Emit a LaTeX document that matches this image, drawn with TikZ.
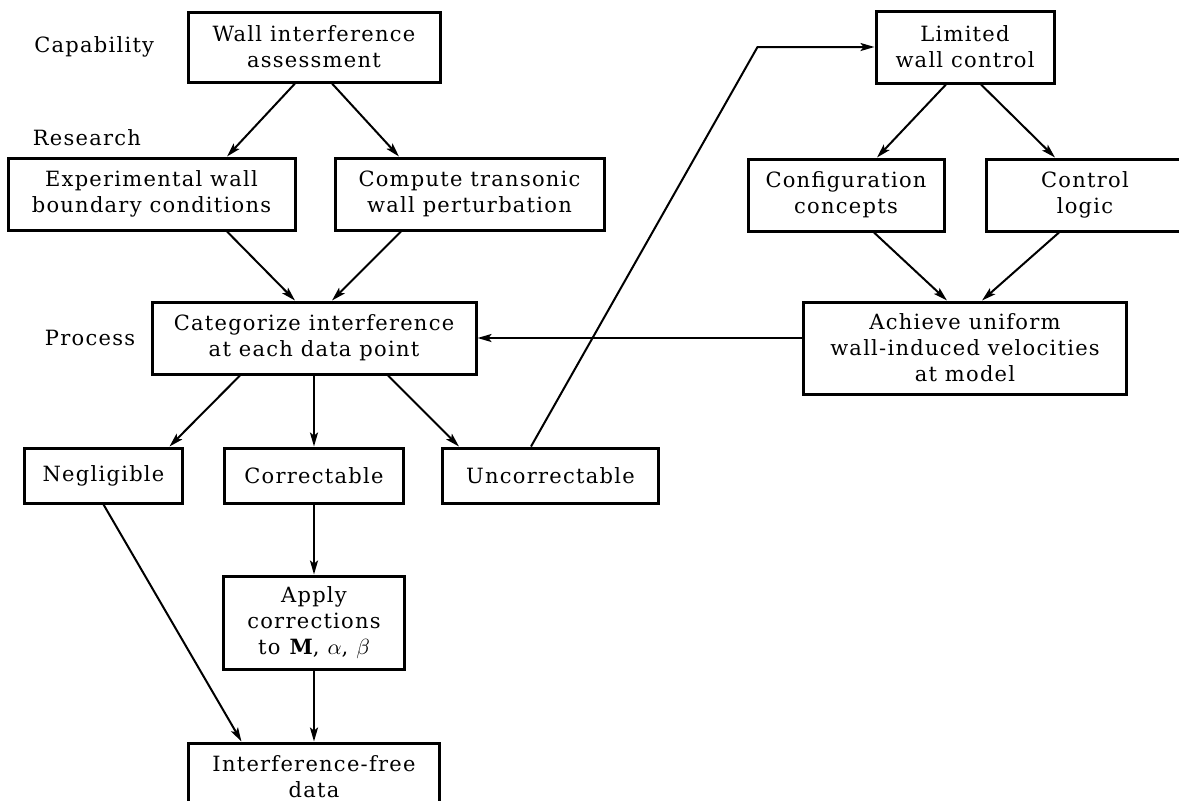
\documentclass[tikz,border=0pt]{standalone}
\usepackage{fontspec}
\setmainfont[LetterSpace=6]{DejaVu Serif}
\usetikzlibrary{positioning, arrows.meta}

\begin{document}
\begin{tikzpicture}[
        block/.style={rectangle, draw, line width=1.5pt, align=center, inner sep=2pt, font=\fontsize{10.5}{13}\selectfont},
        tag/.style={inner sep=0pt, font=\fontsize{10.5}{13}\selectfont},
        arrow/.style={-{Stealth[length=7pt, width=4pt, inset=1.5pt]}, line width=1pt},
    ]
        \useasboundingbox (0,0) rectangle (589.5pt,-400pt);

        \node[block, minimum width=126pt, minimum height=35pt] (wall) at (157pt,-23.5pt) {Wall interference\\assessment};
        \node[block, minimum width=143.5pt, minimum height=36pt, below=36.5pt of wall, xshift=-81.25pt] (exper) {Experimental wall\\boundary conditions};
        \node[block, minimum width=134.5pt, minimum height=36pt, right=18.5pt of exper] (comp) {Compute transonic\\wall perturbation};
        \node[block, minimum width=162pt, minimum height=36pt, below=108.5pt of wall] (categ) {Categorize interference\\at each data point};
        \node[block, minimum width=89.5pt, minimum height=27.5pt, below=35.5pt of categ] (corr) {Correctable};
        \node[block, minimum width=79pt, minimum height=27.5pt, left=19.5pt of corr] (negl) {Negligible};
        \node[block, minimum width=108pt, minimum height=27.5pt, right=18pt of corr] (uncorr) {Uncorrectable};
        \node[block, minimum width=90.5pt, minimum height=46.5pt, below=35pt of corr] (apply) {Apply\\corrections\\to \textbf{M}, $\alpha$, $\beta$};
        \node[block, minimum width=125.5pt, minimum height=34pt, below=35.5pt of apply] (free) {Interference-free\\data};

        \node[block, minimum width=89pt, minimum height=36pt, right=216.5pt of wall] (limit) {Limited\\wall control};
        \node[block, minimum width=98pt, minimum height=36pt, below=36.5pt of limit, xshift=-59.5pt] (config) {Configuration\\concepts};
        \node[block, minimum width=99pt, minimum height=36pt, right=19.5pt of config] (logic) {Control\\logic};
        \node[block, minimum width=161.5pt, minimum height=46pt, below=108pt of limit] (achieve) {Achieve uniform\\wall-induced velocities\\at model};

        \node[tag, left=16pt of wall] (capab) {Capability};
        \node[tag, anchor=south west] (research) at ([xshift=13pt, yshift=5pt]exper.north west) {Research};
        \node[tag, left=7.5pt of categ] (process) {Process};

        \draw[arrow] ([xshift=-9.5pt]wall.south) -- ([xshift=37.75pt]exper.north);
        \draw[arrow] ([xshift=9pt]wall.south) -- ([xshift=-35.25pt]comp.north);
        \draw[arrow] ([xshift=37.75pt]exper.south) -- ([xshift=-9.5pt]categ.north);
        \draw[arrow] ([xshift=-34.25pt]comp.south) -- ([xshift=9pt]categ.north);
        \draw[arrow] ([xshift=-37pt]categ.south) -- ([xshift=33pt]negl.north);
        \draw[arrow] (categ) -- (corr);
        \draw[arrow] ([xshift=37pt]categ.south) -- ([xshift=-45.75pt]uncorr.north);
        \draw[arrow] (negl.south) -- ([xshift=-36.25pt]free.north);
        \draw[arrow] (corr) -- (apply);
        \draw[arrow] (apply) -- (free);

        \coordinate[left=58.5pt of limit.west] (kink);
        \draw[arrow] ([xshift=-9.75pt]uncorr.north) -- (kink) -- (limit.west);
        \draw[arrow] ([xshift=-9.5pt]limit.south) -- ([xshift=15.5pt]config.north);
        \draw[arrow] ([xshift=8pt]limit.south) -- ([xshift=-15pt]logic.north);
        \draw[arrow] ([xshift=14pt]config.south) -- ([xshift=-9pt]achieve.north);
        \draw[arrow] ([xshift=-13pt]logic.south) -- ([xshift=8.5pt]achieve.north);
        \draw[arrow] (achieve.west |- categ.east) -- (categ.east);
    \end{tikzpicture}
\end{document}
